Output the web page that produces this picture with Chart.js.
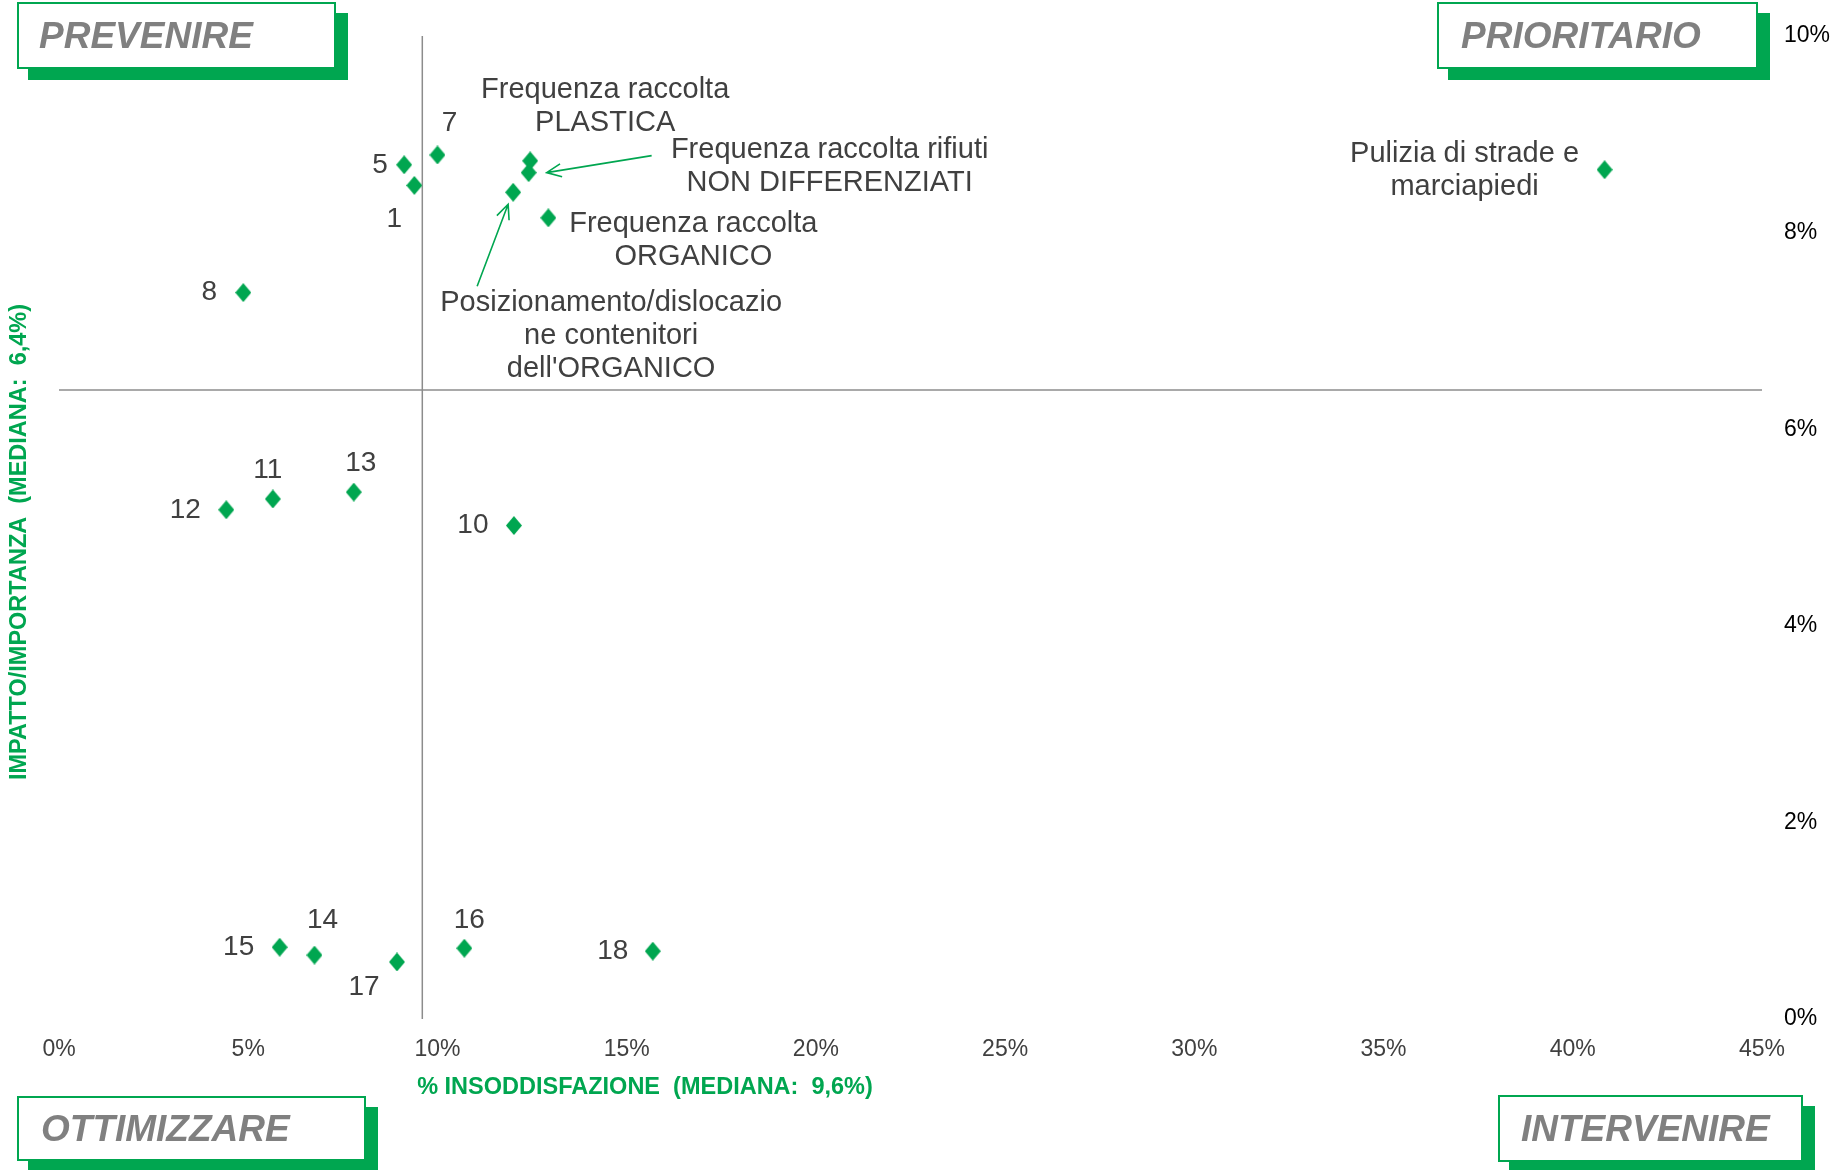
<!DOCTYPE html>
<html>
<head>
<meta charset="utf-8">
<script src="https://cdn.jsdelivr.net/npm/chart.js@4/dist/chart.umd.min.js"></script>
<style>
  html, body { margin: 0; padding: 0; background: #ffffff; }
  canvas { display: block; }
</style>
</head>
<body>
<canvas id="matrice" width="1845" height="1170"></canvas>
<script>
// Aspetti del servizio: etichetta, % insoddisfazione (x), impatto/importanza (y)
const aspetti = [
  '5', '1', '7',
  'Frequenza raccolta\nPLASTICA',
  'Frequenza raccolta rifiuti\nNON DIFFERENZIATI',
  "Posizionamento/dislocazio\nne contenitori\ndell'ORGANICO",
  'Frequenza raccolta\nORGANICO',
  '8',
  'Pulizia di strade e\nmarciapiedi',
  '12', '11', '13', '10',
  '15', '14', '17', '16', '18'
];
const insoddisfazione = [9.12, 9.39, 10.0, 12.45, 12.41, 12.0, 12.93, 4.87, 40.84,
                         4.42, 5.65, 7.79, 12.02, 5.83, 6.75, 8.93, 10.71, 15.69];
const importanza = [8.69, 8.48, 8.79, 8.73, 8.61, 8.41, 8.15, 7.39, 8.64,
                    5.18, 5.29, 5.36, 5.02, 0.73, 0.65, 0.58, 0.72, 0.69];

// Mediane che dividono i quadranti
const medianaInsoddisfazione = 9.6;
const medianaImportanza = 6.4;

// Assi
const xMin = 0, xMax = 45, xStep = 5;
const yMin = 0, yMax = 10, yStep = 2;
const titoloX = '% INSODDISFAZIONE  (MEDIANA:  9,6%)';
const titoloY = 'IMPATTO/IMPORTANZA  (MEDIANA:  6,4%)';

// Quadranti
const quadranti = ['PREVENIRE', 'PRIORITARIO', 'OTTIMIZZARE', 'INTERVENIRE'];

// ---- Impaginazione (posizioni e stili) ----
const VERDE = '#00a650';
const GRIGIO_TESTO = '#404040';
const FONT = "'Liberation Sans', Arial, sans-serif";

// scostamento etichette rispetto al punto (centro del blocco di testo)
const posEtichette = [
  [-24, 1], [-20, 34], [12, -32], [75, -54], [301, -6], [98, 144], [145, 23],
  [-34, 0], [-140, 1], [-41, 0], [-5, -29], [7, -29], [-41, 0],
  [-41, 0], [8, -35], [-33, 25], [5, -28], [-40, 0]
];
// frecce: indice del punto, coda e punta relative al punto
const frecce = [
  { i: 4, coda: [123, -17], punta: [18, 0] },
  { i: 5, coda: [-36, 94], punta: [-5, 12] }
];
// riquadri dei quadranti
const riquadri = [
  { x: 18,   y: 3,    w: 317, h: 65, tx: 39 },
  { x: 1438, y: 3,    w: 319, h: 65, tx: 1461 },
  { x: 18,   y: 1097, w: 347, h: 63, tx: 41 },
  { x: 1499, y: 1096, w: 303, h: 65, tx: 1521 }
];

// marcatore a rombo
function rombo(w, h, colore) {
  const c = document.createElement('canvas');
  c.width = w; c.height = h;
  const g = c.getContext('2d');
  g.fillStyle = colore;
  g.beginPath();
  g.moveTo(w / 2, 0);
  g.lineTo(w, h / 2);
  g.lineTo(w / 2, h);
  g.lineTo(0, h / 2);
  g.closePath();
  g.fill();
  return c;
}

const punti = insoddisfazione.map((x, i) => ({ x: x, y: importanza[i] }));

const etichettePlugin = {
  id: 'etichette',
  afterDatasetsDraw(chart) {
    const ctx = chart.ctx;
    const meta = chart.getDatasetMeta(0);
    ctx.save();
    ctx.fillStyle = GRIGIO_TESTO;
    ctx.textAlign = 'center';
    ctx.textBaseline = 'middle';
    const lh = 33;
    meta.data.forEach((el, i) => {
      const righe = aspetti[i].split('\n');
      const [dx, dy] = posEtichette[i];
      ctx.font = (righe.length > 1 ? '29px ' : '28px ') + FONT;
      righe.forEach((r, k) => {
        ctx.fillText(r, el.x + dx, el.y + dy + (k - (righe.length - 1) / 2) * lh);
      });
    });
    // frecce di richiamo
    ctx.strokeStyle = VERDE;
    ctx.lineWidth = 1.6;
    frecce.forEach(f => {
      const el = meta.data[f.i];
      const x1 = el.x + f.coda[0], y1 = el.y + f.coda[1];
      const x2 = el.x + f.punta[0], y2 = el.y + f.punta[1];
      const a = Math.atan2(y2 - y1, x2 - x1);
      const L = 16, sp = 0.42;
      ctx.beginPath();
      ctx.moveTo(x1, y1); ctx.lineTo(x2, y2);
      ctx.moveTo(x2 - L * Math.cos(a - sp), y2 - L * Math.sin(a - sp));
      ctx.lineTo(x2, y2);
      ctx.lineTo(x2 - L * Math.cos(a + sp), y2 - L * Math.sin(a + sp));
      ctx.stroke();
    });
    ctx.restore();
  },
  afterDraw(chart) {
    const ctx = chart.ctx;
    ctx.save();
    // titoli degli assi
    ctx.fillStyle = VERDE;
    ctx.font = 'bold 23.5px ' + FONT;
    ctx.textAlign = 'center';
    ctx.textBaseline = 'middle';
    ctx.fillText(titoloX, 645, 1088);
    ctx.translate(20, 542);
    ctx.rotate(-Math.PI / 2);
    ctx.fillText(titoloY, 0, 0);
    ctx.restore();

    // riquadri dei quadranti
    ctx.save();
    riquadri.forEach((b, i) => {
      ctx.fillStyle = VERDE;
      ctx.fillRect(b.x + 10, b.y + 10, b.w + 3, b.h + 2);
      ctx.fillStyle = '#ffffff';
      ctx.fillRect(b.x, b.y, b.w, b.h);
      ctx.strokeStyle = VERDE;
      ctx.lineWidth = 2;
      ctx.strokeRect(b.x, b.y, b.w, b.h);
      ctx.fillStyle = '#808080';
      ctx.font = 'italic bold 37px ' + FONT;
      ctx.textAlign = 'left';
      ctx.textBaseline = 'middle';
      ctx.fillText(quadranti[i], b.tx, b.y + b.h / 2 + 2);
    });
    ctx.restore();
  }
};

Chart.defaults.font.family = FONT;

new Chart(document.getElementById('matrice'), {
  type: 'scatter',
  data: {
    datasets: [
      {
        data: punti,
        pointStyle: rombo(16, 19, VERDE),
        pointRadius: 9,
        backgroundColor: VERDE
      },
      {
        data: [{ x: medianaInsoddisfazione, y: yMin }, { x: medianaInsoddisfazione, y: yMax }],
        showLine: true,
        borderColor: '#8c8c8c',
        borderWidth: 1.5,
        pointRadius: 0
      },
      {
        data: [{ x: xMin, y: medianaImportanza }, { x: xMax, y: medianaImportanza }],
        showLine: true,
        borderColor: '#8c8c8c',
        borderWidth: 1.5,
        pointRadius: 0
      }
    ]
  },
  options: {
    responsive: false,
    devicePixelRatio: 1,
    animation: false,
    layout: { padding: { left: 59, top: 36, right: 0, bottom: 0 } },
    plugins: { legend: { display: false }, tooltip: { enabled: false } },
    events: [],
    scales: {
      x: {
        type: 'linear',
        min: xMin, max: xMax,
        grid: { display: false, drawTicks: false },
        border: { display: false },
        ticks: {
          stepSize: xStep,
          padding: 17,
          color: GRIGIO_TESTO,
          font: { size: 23 },
          callback: v => v + '%'
        },
        afterFit(s) { s.height = 151; }
      },
      y: {
        type: 'linear',
        position: 'right',
        min: yMin, max: yMax,
        grid: { display: false, drawTicks: false },
        border: { display: false },
        ticks: {
          stepSize: yStep,
          padding: 22,
          color: '#000000',
          font: { size: 23 },
          callback: v => v + '%'
        },
        afterFit(s) { s.width = 83; }
      }
    }
  },
  plugins: [etichettePlugin]
});
</script>
</body>
</html>
